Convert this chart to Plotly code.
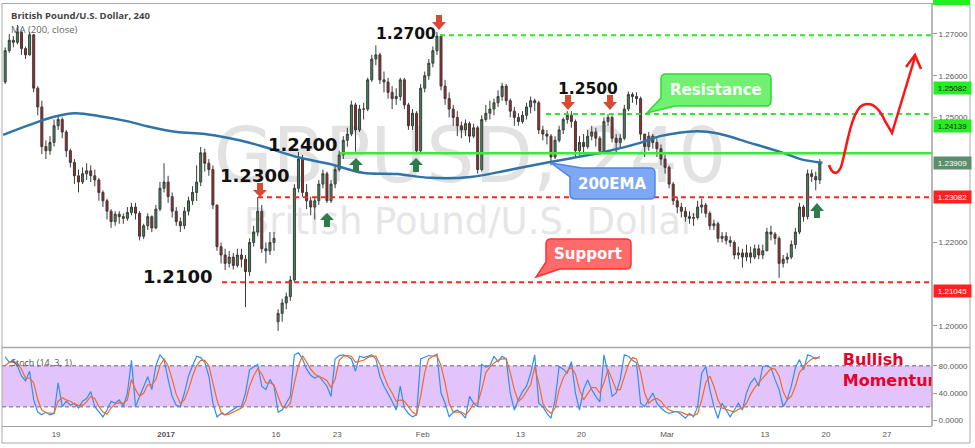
import plotly.graph_objects as go
import pandas as pd

# ---------------- data ----------------
first_day = "2016-12-12"
last_day = "2017-03-17"
holidays = ["2016-12-26", "2017-01-02"]
first_open = 1.2585
gap_open = {"2017-01-16 04:00": 1.2010}

# 8-hour candles, grouped per trading day
close = [
    1.2660,
    1.2685, 1.2680, 1.2705,  1.2665, 1.2650, 1.2698,  1.2570, 1.2525, 1.2430,  1.2420, 1.2440, 1.2480,
    1.2495, 1.2465, 1.2420,  1.2392, 1.2360, 1.2345,  1.2365, 1.2372, 1.2360,  1.2350, 1.2320, 1.2300,
    1.2275, 1.2250, 1.2268,  1.2262, 1.2258, 1.2272,  1.2285, 1.2270, 1.2215,  1.2240, 1.2262, 1.2235,
    1.2280, 1.2330, 1.2345,  1.2310, 1.2275, 1.2250,  1.2240, 1.2275, 1.2300,  1.2320, 1.2345, 1.2415,
    1.2390, 1.2375, 1.2290,  1.2190, 1.2170, 1.2150,  1.2165, 1.2145, 1.2170,  1.2160, 1.2130, 1.2200,
    1.2225, 1.2275, 1.2185,  1.2180, 1.2200, 1.2210,  1.2030, 1.2055, 1.2070,  1.2110, 1.2330, 1.2400,
    1.2320, 1.2300, 1.2285,  1.2300, 1.2340, 1.2365,  1.2300, 1.2340, 1.2375,  1.2410, 1.2445, 1.2460,
    1.2530, 1.2470, 1.2520,  1.2520, 1.2590, 1.2640,  1.2650, 1.2590, 1.2585,  1.2560, 1.2545, 1.2550,
    1.2590, 1.2530, 1.2480,  1.2510, 1.2420, 1.2570,  1.2600, 1.2630, 1.2660,  1.2695, 1.2575, 1.2545,
    1.2520, 1.2500, 1.2480,  1.2470, 1.2485, 1.2455,  1.2475, 1.2375, 1.2495,  1.2510, 1.2520, 1.2535,
    1.2550, 1.2575, 1.2540,  1.2515, 1.2500, 1.2490,  1.2505, 1.2525, 1.2540,  1.2535, 1.2470, 1.2460,
    1.2455, 1.2405, 1.2445,  1.2470, 1.2495, 1.2505,  1.2490, 1.2420, 1.2440,  1.2430, 1.2455, 1.2465,
    1.2450, 1.2420, 1.2490,  1.2500, 1.2450, 1.2440,  1.2450, 1.2520, 1.2555,  1.2550, 1.2545, 1.2460,
    1.2430, 1.2455, 1.2440,  1.2425, 1.2400, 1.2380,  1.2340, 1.2300, 1.2285,  1.2275, 1.2262, 1.2258,
    1.2260, 1.2285, 1.2290,  1.2270, 1.2240, 1.2245,  1.2210, 1.2215, 1.2205,  1.2200, 1.2170, 1.2175,
    1.2165, 1.2175, 1.2165,  1.2185, 1.2170, 1.2180,  1.2225, 1.2220, 1.2210,  1.2150, 1.2160, 1.2165,
    1.2195, 1.2225, 1.2285,  1.2262, 1.2365, 1.2358,  1.2350, 1.2391,
]
high = [
    1.2668,
    1.2700, 1.2695, 1.2722,  1.2705, 1.2670, 1.2705,  1.2700, 1.2575, 1.2540,  1.2445, 1.2455, 1.2495,
    1.2505, 1.2500, 1.2470,  1.2425, 1.2400, 1.2375,  1.2380, 1.2390, 1.2385,  1.2375, 1.2355, 1.2325,
    1.2305, 1.2280, 1.2275,  1.2275, 1.2270, 1.2285,  1.2295, 1.2295, 1.2275,  1.2245, 1.2270, 1.2265,
    1.2290, 1.2345, 1.2390,  1.2360, 1.2320, 1.2285,  1.2260, 1.2285, 1.2310,  1.2335, 1.2385, 1.2429,
    1.2425, 1.2400, 1.2385,  1.2285, 1.2200, 1.2185,  1.2180, 1.2175, 1.2185,  1.2185, 1.2170, 1.2210,
    1.2240, 1.2309, 1.2290,  1.2200, 1.2225, 1.2225,  1.2040, 1.2065, 1.2080,  1.2120, 1.2340, 1.2417,
    1.2410, 1.2340, 1.2310,  1.2310, 1.2350, 1.2375,  1.2370, 1.2350, 1.2385,  1.2420, 1.2455, 1.2475,
    1.2540, 1.2535, 1.2530,  1.2535, 1.2595, 1.2650,  1.2673, 1.2655, 1.2610,  1.2595, 1.2575, 1.2570,
    1.2595, 1.2595, 1.2535,  1.2520, 1.2515, 1.2580,  1.2610, 1.2640, 1.2670,  1.2705, 1.2700, 1.2590,
    1.2560, 1.2530, 1.2515,  1.2490, 1.2495, 1.2490,  1.2485, 1.2480, 1.2505,  1.2530, 1.2540, 1.2545,
    1.2565, 1.2583, 1.2580,  1.2545, 1.2525, 1.2510,  1.2515, 1.2535, 1.2550,  1.2545, 1.2540, 1.2480,
    1.2470, 1.2460, 1.2455,  1.2480, 1.2500, 1.2515,  1.2515, 1.2495, 1.2455,  1.2460, 1.2470, 1.2480,
    1.2475, 1.2455, 1.2500,  1.2508, 1.2505, 1.2460,  1.2460, 1.2530, 1.2562,  1.2560, 1.2560, 1.2550,
    1.2460, 1.2465, 1.2460,  1.2450, 1.2435, 1.2410,  1.2385, 1.2345, 1.2310,  1.2295, 1.2285, 1.2275,
    1.2270, 1.2300, 1.2305,  1.2295, 1.2275, 1.2255,  1.2250, 1.2225, 1.2225,  1.2215, 1.2205, 1.2190,
    1.2185, 1.2195, 1.2190,  1.2195, 1.2195, 1.2195,  1.2235, 1.2240, 1.2225,  1.2215, 1.2170, 1.2175,
    1.2205, 1.2235, 1.2295,  1.2290, 1.2375, 1.2375,  1.2370, 1.2400,
]
low = [
    1.2580,
    1.2655, 1.2668, 1.2675,  1.2650, 1.2640, 1.2648,  1.2560, 1.2505, 1.2412,  1.2400, 1.2410, 1.2430,
    1.2470, 1.2450, 1.2405,  1.2380, 1.2340, 1.2320,  1.2340, 1.2350, 1.2345,  1.2335, 1.2300, 1.2285,
    1.2255, 1.2235, 1.2240,  1.2245, 1.2245, 1.2252,  1.2265, 1.2255, 1.2205,  1.2208, 1.2230, 1.2225,
    1.2232, 1.2275, 1.2320,  1.2295, 1.2260, 1.2240,  1.2225, 1.2232, 1.2265,  1.2290, 1.2300, 1.2335,
    1.2370, 1.2360, 1.2280,  1.2180, 1.2150, 1.2134,  1.2140, 1.2135, 1.2140,  1.2140, 1.2045, 1.2120,
    1.2190, 1.2215, 1.2175,  1.2150, 1.2170, 1.2180,  1.1988, 1.2010, 1.2040,  1.2060, 1.2105, 1.2320,
    1.2310, 1.2280, 1.2265,  1.2255, 1.2290, 1.2330,  1.2295, 1.2295, 1.2330,  1.2370, 1.2400, 1.2430,
    1.2455, 1.2418, 1.2465,  1.2495, 1.2515, 1.2585,  1.2625, 1.2580, 1.2560,  1.2545, 1.2520, 1.2530,
    1.2540, 1.2520, 1.2470,  1.2470, 1.2415, 1.2415,  1.2560, 1.2590, 1.2620,  1.2650, 1.2565, 1.2530,
    1.2500, 1.2480, 1.2455,  1.2450, 1.2455, 1.2440,  1.2450, 1.2365, 1.2370,  1.2490, 1.2495, 1.2505,
    1.2525, 1.2540, 1.2530,  1.2500, 1.2480, 1.2480,  1.2485, 1.2495, 1.2510,  1.2515, 1.2460, 1.2445,
    1.2435, 1.2385, 1.2400,  1.2440, 1.2460, 1.2485,  1.2475, 1.2405, 1.2410,  1.2415, 1.2425, 1.2445,
    1.2430, 1.2410, 1.2415,  1.2480, 1.2440, 1.2415,  1.2425, 1.2445, 1.2515,  1.2535, 1.2530, 1.2445,
    1.2405, 1.2420, 1.2425,  1.2405, 1.2385, 1.2365,  1.2330, 1.2290, 1.2270,  1.2260, 1.2250, 1.2245,
    1.2240, 1.2255, 1.2270,  1.2260, 1.2230, 1.2230,  1.2200, 1.2200, 1.2195,  1.2190, 1.2160, 1.2160,
    1.2140, 1.2155, 1.2150,  1.2160, 1.2160, 1.2160,  1.2185, 1.2205, 1.2195,  1.2115, 1.2140, 1.2150,
    1.2160, 1.2185, 1.2220,  1.2250, 1.2255, 1.2345,  1.2325, 1.2340,
]
stoch_k = [
    93,
    85, 88, 80,  65, 58, 72,  30, 12, 8,  12, 8, 10,
    55, 20, 28,  22, 25, 18,  28, 32, 42,  20, 12, 5,  15, 28, 25,
    30, 20, 40,  88, 20, 35,  50, 64, 45,  80, 96, 89,
    60, 35, 22,  20, 40, 65,  80, 94, 92,  85, 65, 25,
    5, 10, 8,  12, 15, 20,  20, 40, 74,  78, 82, 50,  45, 60, 50,
    12, 15, 25,  35, 96, 99,  90, 75, 66,  62, 65, 58,  50, 35, 90,
    95, 96, 94,  90, 72, 94,  92, 94, 96,  90, 64, 50,  40, 28, 15,
    50, 18, 10,  5, 8, 90,  92, 95, 94,  97, 40, 25,  5, 12, 15,
    10, 3, 35,  25, 20, 82,  78, 80, 94,  86, 94, 90,  40, 15, 30,
    42, 50, 69,  96, 25, 20,  10, 3, 30,  79, 75, 69,  86, 40, 15,
    45, 59, 45,  35, 27, 96,  69, 35, 40,  60, 96, 94,  88, 84, 25,
    20, 30, 40,  25, 18, 13,  10, 12, 13,  8, 3, 10,  5, 20, 69,
    79, 45, 20,  3, 25, 15,  5, 15, 25,  15, 40, 55,  62, 50, 79,
    80, 77, 60,  45, 20, 30,  50, 77, 89,  74, 96, 94,  90, 94,
]
stoch_d = [
    80,
    85, 86, 84,  75, 62, 62,  55, 30, 15,  11, 10, 10,
    28, 33, 30,  28, 24, 22,  22, 27, 35,  32, 20, 12,  9, 18, 24,
    26, 25, 30,  60, 45, 35,  40, 52, 52,  60, 80, 90,
    80, 60, 38,  25, 30, 45,  65, 80, 88,  88, 80, 55,
    30, 12, 8,  9, 12, 15,  18, 28, 50,  65, 76, 68,  55, 55, 52,
    35, 20, 18,  25, 55, 80,  95, 85, 75,  68, 64, 62,  58, 48, 60,
    88, 94, 95,  94, 85, 86,  88, 92, 94,  94, 82, 65,  50, 40, 28,
    30, 28, 20,  12, 8, 35,  70, 90, 94,  95, 80, 55,  25, 12, 12,
    12, 8, 15,  25, 25, 45,  70, 78, 84,  88, 90, 90,  70, 45, 28,
    33, 42, 52,  78, 55, 25,  15, 10, 18,  45, 62, 72,  78, 68, 45,
    30, 40, 48,  48, 40, 55,  75, 60, 45,  45, 62, 82,  92, 90, 70,
    40, 25, 30,  32, 28, 20,  15, 13, 12,  12, 9, 8,  7, 10, 30,
    55, 65, 50,  30, 18, 16,  15, 12, 16,  18, 25, 38,  48, 55, 62,
    70, 76, 75,  65, 42, 30,  35, 50, 70,  78, 85, 90,  92, 91,
]
ema_time = ["2016-12-12 16:00", "2016-12-14 20:00", "2016-12-16 18:00", "2016-12-20 13:00",
            "2016-12-22 14:00", "2016-12-27 19:00", "2016-12-29 17:00", "2017-01-03 21:00",
            "2017-01-06 04:00", "2017-01-10 05:00", "2017-01-11 00:00", "2017-01-12 17:00",
            "2017-01-17 17:00", "2017-01-20 10:00", "2017-01-25 02:00", "2017-01-27 22:00",
            "2017-02-01 14:00", "2017-02-06 22:00", "2017-02-10 02:00", "2017-02-15 10:00",
            "2017-02-21 12:00", "2017-02-24 19:00", "2017-02-28 10:00", "2017-03-03 10:00",
            "2017-03-07 02:00", "2017-03-09 19:00", "2017-03-14 12:00", "2017-03-15 22:00",
            "2017-03-17 17:00"]
ema_val = [1.2458, 1.2482, 1.2501, 1.2510, 1.2503, 1.2491, 1.2477, 1.2465, 1.2460, 1.2450,
           1.2445, 1.2432, 1.2405, 1.2388, 1.2367, 1.2364, 1.2355, 1.2357, 1.2374, 1.2393,
           1.2415, 1.2439, 1.2455, 1.2467, 1.2462, 1.2439, 1.2415, 1.2400, 1.2391]

level_price = [1.2697, 1.25082, 1.24139, 1.23082, 1.21045]
level_start = ["2017-02-02 10:00", "2017-02-15 02:00", "2017-01-23 05:30",
               "2017-01-12 12:30", "2017-01-09 14:00"]
level_kind = ["res_dash", "res_dash", "res_solid", "sup", "sup"]

tag_text = ["1.25082", "1.24139", "1.23909", "1.23082", "1.21045"]
price_ticks = [1.20, 1.22, 1.25, 1.26, 1.27]
stoch_ticks = [0, 40, 80]
tick_dates = ["2016-12-19", "2017-01-03", "2017-01-16", "2017-01-23", "2017-02-01", "2017-02-13",
              "2017-02-20", "2017-03-01", "2017-03-13", "2017-03-20", "2017-03-27"]
tick_text = ["19", "<b>2017</b>", "16", "23", "Feb", "13", "20", "Mar", "13", "20", "27"]
x_range = ["2016-12-12 13:45", "2017-03-30 16:19"]

# ---------------- build ----------------
days = [d for d in pd.bdate_range(first_day, last_day) if d.strftime("%Y-%m-%d") not in holidays]
times = [d + pd.Timedelta(hours=8 * s + 4) for d in days for s in range(3)][2:-1]
opens = [first_open] + close[:-1]
for i, t in enumerate(times):
    key = t.strftime("%Y-%m-%d %H:%M")
    if key in gap_open:
        opens[i] = gap_open[key]
high = [max(h, o, c) for h, o, c in zip(high, opens, close)]
low = [min(l, o, c) for l, o, c in zip(low, opens, close)]

W, H = 975, 448
L, R, T, B = 2, 932, 4, 426


def PX(x):
    return (x - L) / (R - L)


def PY(y):
    return (B - y) / (B - T)


def path(cmds):
    out = []
    for c in cmds:
        if isinstance(c, str):
            out.append(c)
        else:
            out.append(f"{PX(c[0]):.5f},{PY(c[1]):.5f}")
    return " ".join(out)


fig = go.Figure()

fig.add_trace(go.Candlestick(
    x=times, open=opens, high=high, low=low, close=close,
    increasing=dict(line=dict(color="#3c3c3c", width=1), fillcolor="#3f8a56"),
    decreasing=dict(line=dict(color="#3c3c3c", width=1), fillcolor="#a92323"),
    whiskerwidth=0, hoverinfo="skip", xaxis="x", yaxis="y"))

fig.add_trace(go.Scatter(
    x=ema_time, y=ema_val, mode="lines", line=dict(color="#2f74a5", width=2.5, shape="spline"),
    hoverinfo="skip", xaxis="x", yaxis="y"))

fig.add_trace(go.Scatter(
    x=times, y=stoch_k, mode="lines", line=dict(color="#2f8ff5", width=1.2),
    hoverinfo="skip", xaxis="x2", yaxis="y2"))
fig.add_trace(go.Scatter(
    x=times, y=stoch_d, mode="lines", line=dict(color="#f26a2a", width=1.2),
    hoverinfo="skip", xaxis="x2", yaxis="y2"))

fig.add_trace(go.Scatter(
    x=["2017-03-21 09:00"], y=[72], mode="text", text=["<b>Bullish<br>Momentum</b>"],
    textposition="middle right", cliponaxis=True,
    textfont=dict(family="DejaVu Sans", size=16, color="#e8002e"),
    hoverinfo="skip", xaxis="x2", yaxis="y2"))

shapes = []
# watermark
shapes.append(dict(type="rect", xref="paper", yref="paper", layer="below",
                   x0=PX(190), x1=PX(750), y0=PY(190), y1=PY(110), line=dict(width=0),
                   label=dict(text="GBPUSD, 240", textposition="middle center",
                              font=dict(family="DejaVu Sans", size=76, color="#e2e2e2"))))
shapes.append(dict(type="rect", xref="paper", yref="paper", layer="below",
                   x0=PX(190), x1=PX(750), y0=PY(238), y1=PY(198), line=dict(width=0),
                   label=dict(text="British Pound/U.S. Dollar", textposition="middle center",
                              font=dict(family="DejaVu Sans", size=37, color="#e6e6e6"))))
# stoch band
shapes.append(dict(type="rect", xref="paper", yref="y2", layer="below", x0=0, x1=1, y0=20, y1=80,
                   fillcolor="#e2c4fb", line=dict(width=0)))
for v in (20, 80):
    shapes.append(dict(type="line", xref="paper", yref="y2", layer="below", x0=0, x1=1, y0=v, y1=v,
                       line=dict(color="#9a8a9e", width=1.5, dash="4px,3px")))

# support / resistance levels
style = {"res_dash": dict(color="#2ee62e", width=2, dash="5px,4px"),
         "res_solid": dict(color="#35ec35", width=2.5),
         "sup": dict(color="#ff2323", width=2, dash="5px,4px")}
for p, s, k in zip(level_price, level_start, level_kind):
    shapes.append(dict(type="line", xref="x", yref="y", x0=s, x1=x_range[1], y0=p, y1=p,
                       line=style[k]))

# frame / separators
shapes.append(dict(type="rect", xref="paper", yref="paper", x0=PX(2), x1=PX(970), y0=PY(443), y1=PY(3.5),
                   line=dict(color="#a8a8a8", width=1)))
shapes.append(dict(type="line", xref="paper", yref="paper", x0=PX(2), x1=PX(970), y0=PY(347.5), y1=PY(347.5),
                   line=dict(color="#a8a8a8", width=1.5)))
shapes.append(dict(type="line", xref="paper", yref="paper", x0=PX(932), x1=PX(932), y0=PY(426), y1=PY(3.5),
                   line=dict(color="#a0a0a0", width=1.5)))
shapes.append(dict(type="rect", xref="paper", yref="paper", x0=PX(933), x1=PX(970), y0=PY(5), y1=PY(-2),
                   fillcolor="#22ee22", line=dict(width=0)))

# callouts
callouts = [
    (["M", (666, 74), "L", (766, 74), "Q", (771, 74), (771, 79), "L", (771, 101), "Q", (771, 106), (766, 106),
      "L", (675, 106), "L", (647, 113), "L", (661, 98), "L", (661, 79), "Q", (661, 74), (666, 74), "Z"],
     "#70f270", "#2fd82f"),
    (["M", (551, 163), "L", (582, 168), "L", (650, 168), "Q", (655, 168), (655, 173), "L", (655, 194),
      "Q", (655, 199), (650, 199), "L", (575, 199), "Q", (570, 199), (570, 194), "L", (570, 177), "Z"],
     "#7ea8f3", "#4f86ec"),
    (["M", (551, 239), "L", (626, 239), "Q", (631, 239), (631, 244), "L", (631, 264), "Q", (631, 269), (626, 269),
      "L", (560, 269), "L", (536, 277), "L", (546, 262), "L", (546, 244), "Q", (546, 239), (551, 239), "Z"],
     "#ff6a6a", "#ff3030"),
]
for cmds, fill, edge in callouts:
    shapes.append(dict(type="path", xref="paper", yref="paper", path=path(cmds),
                       fillcolor=fill, line=dict(color=edge, width=1.5)))


def block_arrow(cx, top, bottom, down, color):
    if down:
        pts = [(cx - 3, top), (cx + 3, top), (cx + 3, top + 7), (cx + 7, top + 7), (cx, bottom),
               (cx - 7, top + 7), (cx - 3, top + 7)]
    else:
        pts = [(cx - 3, bottom), (cx + 3, bottom), (cx + 3, bottom - 7), (cx + 7, bottom - 7), (cx, top),
               (cx - 7, bottom - 7), (cx - 3, bottom - 7)]
    cmds = ["M", pts[0]] + sum([["L", p] for p in pts[1:]], []) + ["Z"]
    return dict(type="path", xref="paper", yref="paper", path=path(cmds), fillcolor=color,
                line=dict(width=0))


for cx, t, b in [(439, 15, 30), (568, 95, 110), (610, 95, 110), (260, 183, 197)]:
    shapes.append(block_arrow(cx, t, b, True, "#d84a31"))
for cx, t, b in [(356, 158, 172), (416, 158, 172), (327, 213, 227), (817, 203, 218)]:
    shapes.append(block_arrow(cx, t, b, False, "#2e7b4b"))

# projection curve
shapes.append(dict(type="path", xref="paper", yref="paper",
                   path=path(["M", (829, 165), "C", (832, 174), (837, 176), (841, 167),
                              "C", (846, 152), (851, 110), (863, 105),
                              "C", (873, 101), (880, 110), (885, 121), "L", (892, 133), "L", (915, 57)]),
                   line=dict(color="#ff1414", width=2.5)))
shapes.append(dict(type="path", xref="paper", yref="paper",
                   path=path(["M", (906, 67), "L", (915, 55), "L", (921, 69)]),
                   line=dict(color="#ff1414", width=2.5)))

ann = []


def text(x, y, s, size, color, bold=False, family="DejaVu Sans", anchor="center"):
    ann.append(dict(x=PX(x), y=PY(y), xref="paper", yref="paper", text=s, showarrow=False,
                    xanchor=anchor, yanchor="middle",
                    font=dict(family=family, size=size, color=color, weight="bold" if bold else "normal")))


text(9, 16, "British Pound/U.S. Dollar, 240", 9.5, "#444444", True, "Open Sans", "left")
text(9, 30, "MA (200, close)", 9.5, "#666666", False, "Open Sans", "left")
text(9, 362, "Stoch (14, 3, 1)", 9, "#555555", False, "Open Sans", "left")

text(406, 34, "1.2700", 15.5, "#111111", True)
text(588, 89, "1.2500", 15.5, "#111111", True)
text(302, 145, "1.2400", 18, "#111111", True)
text(254, 175, "1.2300", 18, "#111111", True)
text(177, 276, "1.2100", 18, "#111111", True)

text(716, 90, "Resistance", 15, "#ffffff", True)
text(612, 184, "200EMA", 15, "#ffffff", True)
text(588, 254, "Support", 15, "#ffffff", True)

tag_y = [88, 126, 163, 197, 291]
tag_bg = ["#22ee22", "#22ee22", "#5d8e6c", "#ff2020", "#ff2020"]
tag_fg = ["#1a1a1a", "#1a1a1a", "#ffffff", "#ffffff", "#ffffff"]
for s, y, bg, fg in zip(tag_text, tag_y, tag_bg, tag_fg):
    ann.append(dict(x=PX(933), y=PY(y), xref="paper", yref="paper", text=s, showarrow=False,
                    xanchor="left", yanchor="middle", bgcolor=bg, width=35, height=10, borderpad=1,
                    font=dict(family="Liberation Sans", size=8, color=fg)))

fig.update_layout(
    width=W, height=H, margin=dict(l=L, r=W - R, t=T, b=H - B),
    paper_bgcolor="white", plot_bgcolor="white", showlegend=False, hovermode=False,
    shapes=shapes, annotations=ann,
    xaxis=dict(type="date", range=x_range, domain=[0, 1], anchor="y",
               rangebreaks=[dict(bounds=["sat", "mon"]), dict(values=holidays)],
               rangeslider=dict(visible=False), showticklabels=False, showgrid=False,
               zeroline=False, showline=False, ticks=""),
    yaxis=dict(domain=[PY(347), 1], range=[1.19494, 1.27719], side="right", anchor="x",
               tickvals=price_ticks, tickformat=".5f", ticks="outside", ticklen=4,
               tickcolor="#999999", showgrid=False, zeroline=False, showline=False,
               tickfont=dict(family="Liberation Sans", size=8, color="#555555")),
    xaxis2=dict(type="date", range=x_range, domain=[0, 1], anchor="y2", matches="x",
                rangebreaks=[dict(bounds=["sat", "mon"]), dict(values=holidays)],
                tickvals=tick_dates, ticktext=tick_text, ticks="", showgrid=False,
                zeroline=False, showline=True, linecolor="#a0a0a0", linewidth=1,
                tickfont=dict(family="Liberation Sans", size=8, color="#555555")),
    yaxis2=dict(domain=[0, PY(349)], range=[-8.4, 104.6], side="right", anchor="x2",
                tickvals=stoch_ticks, tickformat=".4f", ticks="outside", ticklen=4,
                tickcolor="#999999", showgrid=False, zeroline=False, showline=False,
                tickfont=dict(family="Liberation Sans", size=8, color="#555555")),
)

fig.write_html("out.html", config={"displayModeBar": False},
               post_script="document.body.style.margin='0px';document.body.style.overflow='hidden';")
